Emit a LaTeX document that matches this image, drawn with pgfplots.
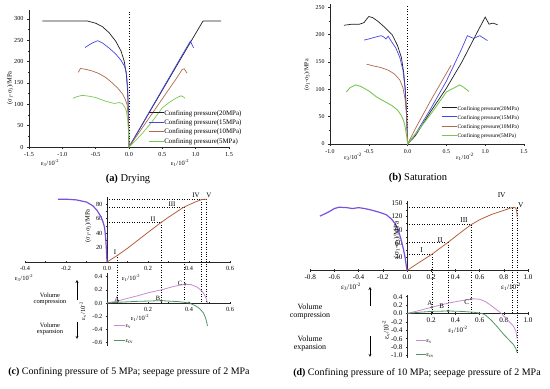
\documentclass[border=0pt]{standalone}
\usepackage{fontspec}
\setmainfont{Liberation Serif}
\usepackage{pgfplots}
\pgfplotsset{compat=1.18}
\definecolor{cA}{RGB}{30,30,30}
\definecolor{cB}{RGB}{70,70,230}
\definecolor{cC}{RGB}{175,105,75}
\definecolor{cD}{RGB}{120,200,80}
\definecolor{cViol}{RGB}{125,80,220}
\definecolor{cBrown}{RGB}{180,95,60}
\definecolor{cPlum}{RGB}{200,140,210}
\definecolor{cCV}{RGB}{80,150,100}
\newcommand{\myfs}[1]{\fontsize{#1}{#1}\selectfont}
\pgfplotsset{
  oax/.style={scale only axis, anchor=south west, axis x line=bottom, axis y line=left,
    axis line style={-, line width=0.5bp, black!85}, enlargelimits=false, clip=false,
    tick align=outside, major tick length=2bp, minor tick length=1.2bp,
    tick style={line width=0.4bp, black!85}, minor x tick num=1, minor y tick num=1,
    every axis plot/.append style={line width=0.7bp},
    legend cell align=left,
    legend image code/.code={\draw[##1] (0bp,0bp) -- (15bp,0bp);}},
  mid/.style={scale only axis, anchor=south west, axis lines=middle,
    axis line style={-, line width=0.6bp, black!85}, enlargelimits=false, clip=false,
    hide obscured x ticks=false, hide obscured y ticks=false,
    tick align=center, major tick length=2.2bp, minor tick length=1.4bp,
    tick style={line width=0.4bp, black!85}, minor x tick num=1,
    every axis plot/.append style={line width=0.8bp},
    legend cell align=left},
}
\begin{document}
\begin{tikzpicture}
\useasboundingbox (0,0) rectangle (550bp,389bp);

% ---------------- (a) Drying ----------------
\begin{axis}[oax, at={(29bp,242bp)}, width=200bp, height=136.6bp,
  xmin=-1.5, xmax=1.5, ymin=0, ymax=320,
  xtick={-1.5,-1,-0.5,0,0.5,1,1.5}, xticklabels={-1.5,-1.0,-0.5,0.0,0.5,1.0,1.5},
  ytick={0,50,100,150,200,250,300}, yticklabels={0,50,100,150,200,250,300},
  tick label style={font=\myfs{6.2}},
  legend style={at={(axis description cs:0.595,0.29)}, anchor=north west, draw=none, fill=none,
    font=\myfs{6.9}, inner sep=0pt, row sep=-1bp,
    nodes={inner sep=0.5bp, text height=0.72em, text depth=0.22em},
    /tikz/every even column/.append style={column sep=3bp}}]
\addplot[dotted, black, line width=0.5bp, forget plot] coordinates {(0,0) (0,320)};
\addplot[cA] coordinates {(-1.3,295)(-0.62,295)(-0.5,290)(-0.4,282)(-0.3,268)(-0.2,248)(-0.12,225)(-0.07,200)(-0.04,170)(-0.02,130)(-0.01,80)(0,0)(0.2,53)(0.5,133)(0.8,213)(1.0,266)(1.11,295)(1.38,295)};
\addlegendentry{Confining pressure(20MPa)}
\addplot[cB] coordinates {(-0.66,233)(-0.56,243)(-0.47,249)(-0.4,244)(-0.3,232)(-0.2,218)(-0.12,203)(-0.07,190)(-0.04,175)(-0.02,140)(-0.01,90)(0,0)(0.2,54)(0.5,135)(0.8,216)(0.92,248)(0.97,232)};
\addlegendentry{Confining pressure(15MPa)}
\addplot[cC] coordinates {(-0.76,175)(-0.73,184)(-0.65,182)(-0.55,178)(-0.45,172)(-0.35,163)(-0.25,150)(-0.17,138)(-0.1,125)(-0.06,113)(-0.03,100)(-0.015,80)(0,0)(0.2,45)(0.5,113)(0.7,158)(0.8,182)(0.83,183)(0.87,173)};
\addlegendentry{Confining pressure(10MPa)}
\addplot[cD] coordinates {(-0.84,114)(-0.78,118)(-0.7,121)(-0.6,119)(-0.5,116)(-0.4,110)(-0.3,105)(-0.22,102)(-0.15,104)(-0.1,102)(-0.07,95)(-0.04,85)(-0.02,65)(-0.01,40)(0,0)(0.1,15)(0.2,32)(0.35,60)(0.5,92)(0.6,104)(0.7,114)(0.78,120)(0.82,117)(0.84,114)};
\addlegendentry{Confining pressure(5MPa)}
\end{axis}

% ---------------- (b) Saturation ----------------
\begin{axis}[oax, at={(330bp,245bp)}, width=194bp, height=139.5bp,
  xmin=-1.0, xmax=1.5, ymin=0, ymax=255,
  xtick={-1,-0.5,0,0.5,1,1.5}, xticklabels={-1.0,-0.5,0.0,0.5,1.0,1.5},
  ytick={0,50,100,150,200,250}, yticklabels={0,50,100,150,200,250},
  tick label style={font=\myfs{5.9}},
  legend style={at={(axis description cs:0.572,0.30)}, anchor=north west, draw=none, fill=none,
    font=\myfs{5.5}, inner sep=0pt, row sep=-1.2bp,
    nodes={inner sep=0.5bp, text height=0.72em, text depth=0.22em},
    /tikz/every even column/.append style={column sep=3bp}}]
\addplot[dotted, black, line width=0.5bp, forget plot] coordinates {(0,0) (0,255)};
\addplot[cA] coordinates {(-0.82,217)(-0.72,219)(-0.62,219)(-0.56,222)(-0.53,228)(-0.5,233)(-0.45,231)(-0.38,224)(-0.3,214)(-0.2,200)(-0.13,180)(-0.08,158)(-0.05,130)(-0.03,100)(-0.015,60)(0,0)(0.1,15)(0.3,60)(0.5,102)(0.7,150)(0.9,205)(1.0,232)(1.05,219)(1.1,221)(1.16,218)};
\addlegendentry{Confining pressure(20MPa)}
\addplot[cB] coordinates {(-0.56,190)(-0.5,192)(-0.4,196)(-0.34,198)(-0.3,195)(-0.28,192)(-0.25,197)(-0.22,190)(-0.15,175)(-0.1,158)(-0.06,135)(-0.035,105)(-0.015,60)(0,0)(0.1,18)(0.3,65)(0.5,115)(0.7,175)(0.77,198)(0.85,193)(0.93,198)(1.03,189)};
\addlegendentry{Confining pressure(15MPa)}
\addplot[cC] coordinates {(-0.53,146)(-0.45,143)(-0.35,140)(-0.25,135)(-0.17,128)(-0.1,117)(-0.06,103)(-0.03,80)(-0.01,45)(0,0)(0.1,28)(0.3,80)(0.56,144)};
\addlegendentry{Confining pressure(10MPa)}
\addplot[cD, line width=0.9bp] coordinates {(-0.79,95)(-0.74,103)(-0.67,108)(-0.6,105)(-0.5,97)(-0.4,86)(-0.3,78)(-0.2,70)(-0.13,62)(-0.08,52)(-0.05,42)(-0.03,30)(-0.01,12)(0,0)(0.1,18)(0.3,55)(0.5,95)(0.55,99)(0.62,104)(0.67,108)(0.72,104)(0.79,96)};
\addlegendentry{Confining pressure(5MPa)}
\end{axis}

% ---------------- (c) top ----------------
\begin{axis}[mid, at={(25bp,127bp)}, width=205bp, height=65bp,
  xmin=-0.4, xmax=0.6, ymin=0, ymax=90,
  xtick={-0.4,-0.2,0,0.2,0.4,0.6}, xticklabels={-0.4,-0.2,0.0,0.2,0.4,0.6},
  ytick={20,40,60,80}, yticklabels={20,40,60,80}, minor y tick num=1,
  tick label style={font=\myfs{6.3}}]
\draw[dotted, line width=0.5bp] (axis cs:0,87) -- (axis cs:0.486,87);
\draw[dotted, line width=0.5bp] (axis cs:0,76) -- (axis cs:0.375,76);
\draw[dotted, line width=0.5bp] (axis cs:0,55) -- (axis cs:0.265,55);
\draw[dotted, line width=0.5bp] (axis cs:0.052,10) -- (axis cs:0.052,-56.8);
\draw[dotted, line width=0.5bp] (axis cs:0.265,55) -- (axis cs:0.265,-56.8);
\draw[dotted, line width=0.5bp] (axis cs:0.375,76) -- (axis cs:0.375,-56.8);
\draw[dotted, line width=0.5bp] (axis cs:0.462,87) -- (axis cs:0.462,-56.8);
\draw[dotted, line width=0.5bp] (axis cs:0.486,87) -- (axis cs:0.486,-56.8);
\addplot[cViol, line width=1.2bp] coordinates {(-0.24,87)(-0.2,87)(-0.15,86)(-0.1,83)(-0.07,78)(-0.05,72)(-0.03,63)(-0.02,56)(-0.012,48)(-0.007,35)(-0.003,18)(0,0)};
\addplot[cBrown] coordinates {(0,0)(0.05,9)(0.1,19)(0.15,30)(0.2,41)(0.265,55)(0.3,62)(0.375,76)(0.43,83)(0.462,86.5)(0.486,87)};
\end{axis}

% ---------------- (c) bottom ----------------
\begin{axis}[mid, at={(107bp,43.3bp)}, width=123bp, height=72.3bp,
  xmin=0, xmax=0.6, ymin=-0.65, ymax=0.45,
  xtick={0.2,0.4,0.6}, xticklabels={0.2,0.4,0.6},
  ytick={-0.6,-0.4,-0.2,0,0.2,0.4}, yticklabels={-0.6,-0.4,-0.2,0.0,0.2,0.4},
  tick label style={font=\myfs{6.3}},
  legend style={at={(axis description cs:0.049,0.36)}, anchor=north west, draw=none, fill=none,
    font=\myfs{6}, inner sep=0pt, row sep=4.5bp,
    nodes={inner sep=0.5bp, text height=0.72em, text depth=0.22em},
    /tikz/every even column/.append style={column sep=2bp}},
  legend image code/.code={\draw[#1] (0bp,0bp) -- (11bp,0bp);}]
\addplot[cPlum] coordinates {(0,0)(0.05,0.03)(0.1,0.07)(0.15,0.11)(0.2,0.155)(0.265,0.2)(0.33,0.255)(0.38,0.285)(0.41,0.28)(0.44,0.24)(0.46,0.19)(0.475,0.13)(0.485,0.06)(0.49,0.0)};
\addlegendentry{ε\textsubscript{v}}
\addplot[cCV] coordinates {(0,0)(0.05,0.01)(0.15,0.025)(0.265,0.035)(0.35,0.02)(0.4,0.0)(0.43,-0.04)(0.45,-0.08)(0.47,-0.15)(0.48,-0.22)(0.487,-0.3)(0.49,-0.35)};
\addlegendentry{ε\textsubscript{cv}}
\addplot[only marks, mark=o, mark size=1.1bp, black!70, line width=0.4bp, forget plot] coordinates {(0.052,0.03)(0.265,0.035)(0.38,0.285)(0.4,0.0)};
\end{axis}

% ---------------- (d) top ----------------
\begin{axis}[mid, at={(310.2bp,118.5bp)}, width=217.8bp, height=69.6bp,
  xmin=-0.8, xmax=1.0, ymin=0, ymax=155,
  xtick={-0.8,-0.6,-0.4,-0.2,0,0.2,0.4,0.6,0.8,1.0}, xticklabels={-0.8,-0.6,-0.4,-0.2,0.0,0.2,0.4,0.6,0.8,1.0},
  ytick={30,60,90,120,150}, yticklabels={30,60,90,120,150}, minor y tick num=1,
  tick label style={font=\myfs{7.2}}]
\draw[dotted, line width=0.5bp] (axis cs:0,140) -- (axis cs:0.907,140);
\draw[dotted, line width=0.5bp] (axis cs:0,102) -- (axis cs:0.53,102);
\draw[dotted, line width=0.5bp] (axis cs:0,63) -- (axis cs:0.34,63);
\draw[dotted, line width=0.5bp] (axis cs:0,36) -- (axis cs:0.205,36);
\draw[dotted, line width=0.5bp] (axis cs:0.205,36) -- (axis cs:0.205,-95.8);
\draw[dotted, line width=0.5bp] (axis cs:0.34,63) -- (axis cs:0.34,-95.8);
\draw[dotted, line width=0.5bp] (axis cs:0.53,102) -- (axis cs:0.53,-95.8);
\draw[dotted, line width=0.5bp] (axis cs:0.866,140) -- (axis cs:0.866,-95.8);
\draw[dotted, line width=0.5bp] (axis cs:0.907,140) -- (axis cs:0.907,-183);
\addplot[cViol, line width=1.2bp] coordinates {(-0.72,121)(-0.65,130)(-0.6,138)(-0.56,141)(-0.5,140)(-0.45,138)(-0.4,140)(-0.35,138)(-0.3,135)(-0.22,129)(-0.17,124)(-0.13,115)(-0.1,105)(-0.07,88)(-0.05,70)(-0.03,48)(-0.015,28)(0,0)};
\addplot[cBrown] coordinates {(0,0)(0.1,18)(0.205,36)(0.34,63)(0.45,86)(0.53,102)(0.6,113)(0.7,125)(0.8,134)(0.866,140)(0.89,140)(0.9,139)(0.907,132)(0.91,120)};
\end{axis}

% ---------------- (d) bottom ----------------
\begin{axis}[mid, at={(407bp,31.4bp)}, width=121bp, height=63bp,
  xmin=0, xmax=1.0, ymin=-1.05, ymax=0.45,
  xtick={0.2,0.4,0.6,0.8,1.0}, xticklabels={0.2,0.4,0.6,0.8,1.0},
  ytick={-1,-0.8,-0.6,-0.4,-0.2,0,0.2,0.4}, yticklabels={-1.0,-0.8,-0.6,-0.4,-0.2,0.0,0.2,0.4},
  tick label style={font=\myfs{7.2}},
  legend style={at={(axis description cs:0.066,0.36)}, anchor=north west, draw=none, fill=none,
    font=\myfs{6.5}, inner sep=0pt, row sep=3.3bp,
    nodes={inner sep=0.5bp, text height=0.72em, text depth=0.22em},
    /tikz/every even column/.append style={column sep=2bp}},
  legend image code/.code={\draw[#1] (0bp,0bp) -- (10bp,0bp);}]
\addplot[cPlum] coordinates {(0,0)(0.1,0.07)(0.205,0.15)(0.3,0.22)(0.4,0.28)(0.5,0.33)(0.55,0.35)(0.6,0.34)(0.65,0.28)(0.7,0.18)(0.75,0.07)(0.78,0.0)(0.82,-0.12)(0.86,-0.24)(0.88,-0.3)(0.9,-0.42)(0.91,-0.6)};
\addlegendentry{ε\textsubscript{v}}
\addplot[cCV] coordinates {(0,0)(0.1,0.03)(0.205,0.05)(0.34,0.06)(0.45,0.05)(0.55,0.03)(0.62,0.0)(0.65,-0.04)(0.7,-0.17)(0.75,-0.33)(0.8,-0.5)(0.85,-0.65)(0.88,-0.74)(0.9,-0.84)(0.91,-0.93)};
\addlegendentry{ε\textsubscript{cv}}
\addplot[only marks, mark=o, mark size=1.1bp, black!70, line width=0.4bp, forget plot] coordinates {(0.205,0.15)(0.34,0.06)(0.53,0.35)};
\end{axis}

% ---------------- text annotations (pixel coordinates, y down) ----------------
\begin{scope}[yshift=389bp, x=1bp, y=-1bp]
\node[rotate=90, font=\myfs{6.5}] at (10,88) {(σ\textsubscript{1}-σ\textsubscript{3})/MPa};
\node[font=\myfs{6.5}] at (50,163) {ε\textsubscript{3}/10\textsuperscript{-2}};
\node[font=\myfs{6.5}] at (180,163) {ε\textsubscript{1}/10\textsuperscript{-2}};
\node[font=\myfs{10.5}] at (128,179) {\textbf{(a)} Drying};

\node[rotate=90, font=\myfs{6}] at (307,75) {(σ\textsubscript{1}-σ\textsubscript{3})/MPa};
\node[font=\myfs{6}] at (353,157) {ε\textsubscript{3}/10\textsuperscript{-2}};
\node[font=\myfs{6}] at (465,157) {ε\textsubscript{1}/10\textsuperscript{-2}};
\node[font=\myfs{10.5}] at (418,178) {\textbf{(b)} Saturation};

\node[rotate=90, font=\myfs{6.5}] at (88,226) {(σ\textsubscript{1}-σ\textsubscript{3})/MPa};
\node[font=\myfs{6.5}] at (24,278) {ε\textsubscript{3}/10\textsuperscript{-2}};
\node[font=\myfs{6.5}] at (131,278) {ε\textsubscript{1}/10\textsuperscript{-2}};
\node[rotate=90, font=\myfs{6.5}] at (83,311) {ε\textsubscript{v}/10\textsuperscript{-2}};
\node[font=\myfs{6.5}] at (140,318) {ε\textsubscript{1}/10\textsuperscript{-2}};
\node[font=\myfs{7}] at (115,252) {I};
\node[font=\myfs{7}] at (153,219) {II};
\node[font=\myfs{7}] at (172,204) {III};
\node[font=\myfs{7}] at (196,195) {IV};
\node[font=\myfs{7}] at (209,195) {V};
\node[font=\myfs{6.5}] at (117,299) {A};
\node[font=\myfs{6.5}] at (158,298) {B};
\node[font=\myfs{6.5}] at (180,283) {C};
\node[font=\myfs{6.5}, align=center, inner sep=0] at (50,299) {Volume\\[-0.5bp]compression};
\node[font=\myfs{6.5}, align=center, inner sep=0] at (50,329) {Volume\\[-0.5bp]expansion};
\draw[-stealth, line width=0.4bp] (77,300) -- (77,280);
\draw[-stealth, line width=0.4bp] (77,322) -- (77,339);
\node[font=\myfs{10}] at (129,372) {\textbf{(c)} Confining pressure of 5 MPa; seepage pressure of 2 MPa};

\node[rotate=90, font=\myfs{7.2}] at (397,240) {(σ\textsubscript{1}-σ\textsubscript{3})/MPa};
\node[font=\myfs{7.2}] at (351,287) {ε\textsubscript{3}/10\textsuperscript{-2}};
\node[font=\myfs{7.2}] at (511,287) {ε\textsubscript{1}/10\textsuperscript{-2}};
\node[rotate=90, font=\myfs{7.2}] at (386,330) {ε\textsubscript{v}/10\textsuperscript{-2}};
\node[font=\myfs{7}] at (458,330) {ε\textsubscript{1}/10\textsuperscript{-2}};
\node[font=\myfs{7.5}] at (421.7,250) {I};
\node[font=\myfs{7.5}] at (440,240) {II};
\node[font=\myfs{7.5}] at (464,220) {III};
\node[font=\myfs{7.5}] at (501.7,195) {IV};
\node[font=\myfs{7.5}] at (520.7,205) {V};
\node[font=\myfs{7}] at (430,303) {A};
\node[font=\myfs{7}] at (441.7,306.7) {B};
\node[font=\myfs{7}] at (466.7,302.7) {C};
\node[font=\myfs{8}, align=center, inner sep=0] at (310,312) {Volume\\[0bp]compression};
\node[font=\myfs{8}, align=center, inner sep=0] at (310,344) {Volume\\[0bp]expansion};
\draw[-stealth, line width=0.4bp] (370,306) -- (370,287);
\draw[-stealth, line width=0.4bp] (370,336) -- (370,357);
\node[font=\myfs{10}] at (417,373) {\textbf{(d)} Confining pressure of 10 MPa; seepage pressure of 2 MPa};
\end{scope}
\end{tikzpicture}
\end{document}
